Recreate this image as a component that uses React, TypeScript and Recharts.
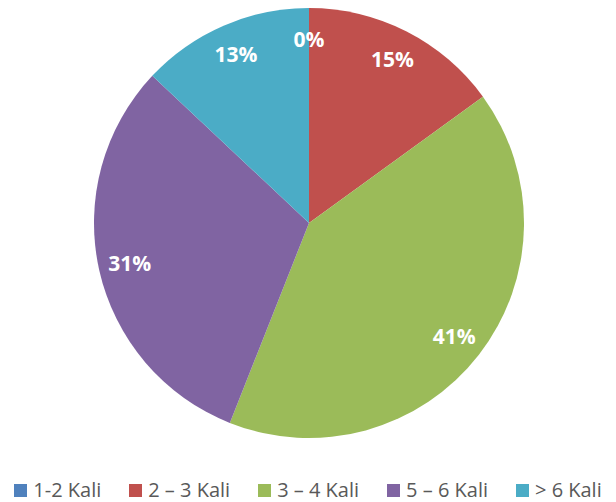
import { Cell, Legend, Pie, PieChart } from 'recharts'

const categories = ['1-2 Kali', '2 – 3 Kali', '3 – 4 Kali', '5 – 6 Kali', '> 6 Kali']
const shares = [0, 15, 41, 31, 13]
const colors = ['#4F81BD', '#C0504D', '#9BBB59', '#8064A2', '#4BACC6']

const data = categories.map((name, i) => ({ name, value: shares[i] }))

const RAD = Math.PI / 180

function renderLabel(props: any) {
  const { cx, cy, midAngle, outerRadius, value } = props
  const r = outerRadius * 0.855
  const x = cx + r * Math.cos(-midAngle * RAD)
  const y = cy + r * Math.sin(-midAngle * RAD)
  return (
    <text
      x={x}
      y={y}
      fill="#fff"
      textAnchor="middle"
      dominantBaseline="central"
      fontFamily="Open Sans"
      fontWeight="bold"
      fontSize={21}
    >
      {value}%
    </text>
  )
}

function renderLegend() {
  return (
    <div
      style={{
        display: 'flex',
        justifyContent: 'center',
        gap: 28,
        fontFamily: 'Open Sans',
        fontSize: 20,
        lineHeight: '24px',
        color: '#595959',
      }}
    >
      {categories.map((c, i) => (
        <div key={c} style={{ display: 'flex', alignItems: 'center' }}>
          <span
            style={{
              width: 13,
              height: 13,
              background: colors[i],
              marginRight: 6,
              display: 'inline-block',
            }}
          />
          <span>{c}</span>
        </div>
      ))}
    </div>
  )
}

export default function App() {
  return (
    <div style={{ position: 'absolute', left: 0, top: 0, background: '#fff' }}>
      <PieChart width={616} height={502} margin={{ top: 0, right: 0, bottom: 0, left: 0 }}>
        <Pie
          data={data}
          dataKey="value"
          nameKey="name"
          cx={309}
          cy={223}
          outerRadius={215}
          startAngle={90}
          endAngle={-270}
          stroke="none"
          label={renderLabel}
          labelLine={false}
          isAnimationActive={false}
        >
          {data.map((d, i) => (
            <Cell key={d.name} fill={colors[i]} />
          ))}
        </Pie>
        <Legend
          verticalAlign="bottom"
          content={renderLegend}
          wrapperStyle={{ bottom: 0 }}
        />
      </PieChart>
    </div>
  )
}
